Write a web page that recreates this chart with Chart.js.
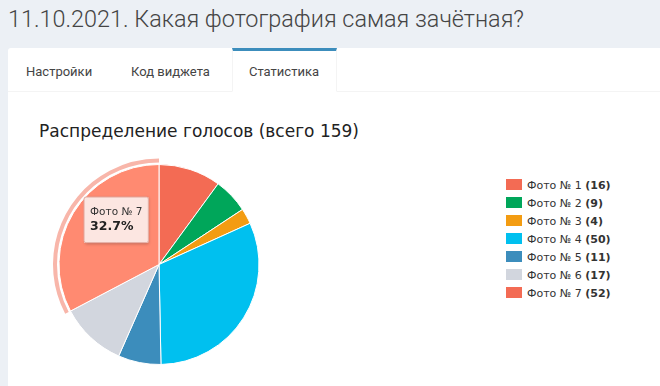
<!DOCTYPE html>
<html>
<head>
<meta charset="utf-8">
<script src="https://cdn.jsdelivr.net/npm/chart.js@4/dist/chart.umd.min.js"></script>
<style>
  body { margin: 0; width: 660px; height: 386px; background: #ecf0f5; overflow: hidden; position: relative; font-family: Roboto, sans-serif; }
  #head { position: absolute; left: 8px; top: 4px; font-size: 23.4px; font-weight: 300; color: #444; line-height: 30px; white-space: nowrap; }
  #card { position: absolute; left: 8px; top: 48px; right: 0; bottom: 0; background: #fff; border-radius: 3px 0 0 0; }
  #tabs { position: absolute; left: 0; right: 0; top: 0; height: 43px; border-bottom: 1px solid #f4f4f4; }
  .tab { position: absolute; top: 0; height: 43px; line-height: 47px; font-size: 13px; color: #444; white-space: nowrap; }
  .tab.active { box-sizing: border-box; height: 44px; border: 1px solid #f4f4f4; border-top: 3px solid #3c8dbc; border-bottom: 1px solid #fff; background: #fff; line-height: 41px; padding-left: 16px; width: 105px; }
  #ctitle { position: absolute; left: 39px; top: 121px; font-family: "DejaVu Sans", sans-serif; font-size: 17px; line-height: 20px; color: #222; white-space: nowrap; }
  #box { position: absolute; left: 8px; top: 100px; width: 330px; height: 286px; }
  #legend { position: absolute; left: 506px; top: 179px; font-family: "DejaVu Sans", sans-serif; font-size: 11px; color: #333; }
  .row { position: relative; height: 18px; }
  .sw { position: absolute; left: 0; top: 0; width: 16px; height: 11px; }
  .txt { position: absolute; left: 21px; top: 0; line-height: 13px; white-space: nowrap; }
</style>
</head>
<body>
<div id="head">11.10.2021. Какая фотография самая зачётная?</div>
<div id="card">
  <div id="tabs">
    <div class="tab" style="left:18px">Настройки</div>
    <div class="tab" style="left:123px">Код виджета</div>
    <div class="tab active" style="left:224px">Статистика</div>
  </div>
</div>
<div id="ctitle"></div>
<div id="box"><canvas id="pie"></canvas></div>
<div id="legend"></div>
<script>
var chartTitle = "Распределение голосов (всего 159)";
var labels = ["Фото № 1", "Фото № 2", "Фото № 3", "Фото № 4", "Фото № 5", "Фото № 6", "Фото № 7"];
var votes = [16, 9, 4, 50, 11, 17, 52];
var colors = ["#f36b54", "#00a65a", "#f39c12", "#00c0ef", "#3c8dbc", "#d2d6de", "#f36b54"];
var hoverColors = ["#ff8a71", "#33c07f", "#f7b24a", "#40d0f3", "#6aa8cc", "#dfe2e8", "#ff8a71"];
var activeIndex = 6;

var total = votes.reduce(function(a, b){ return a + b; }, 0);

document.getElementById("ctitle").textContent = chartTitle;

// legend with bold counts
var legend = document.getElementById("legend");
labels.forEach(function(l, i){
  var row = document.createElement("div");
  row.className = "row";
  row.innerHTML = '<span class="sw" style="background:' + colors[i] + '"></span>' +
    '<span class="txt">' + l + ' <b>(' + votes[i] + ')</b></span>';
  legend.appendChild(row);
});

// light ring around the hovered slice + tooltip shadow
var hoverRing = {
  id: "hoverRing",
  afterDatasetsDraw: function(chart){
    var ctx = chart.ctx;
    chart.getActiveElements().forEach(function(a){
      var p = a.element.getProps(["x", "y", "startAngle", "endAngle", "outerRadius"], true);
      ctx.save();
      ctx.beginPath();
      ctx.arc(p.x, p.y, p.outerRadius + 6, p.startAngle, p.endAngle);
      ctx.arc(p.x, p.y, p.outerRadius + 2, p.endAngle, p.startAngle, true);
      ctx.closePath();
      ctx.fillStyle = "#f8b6aa";
      ctx.fill();
      ctx.restore();
    });
  },
  beforeTooltipDraw: function(chart, args){
    var t = args.tooltip;
    if (!t.opacity) return;
    var ctx = chart.ctx;
    ctx.save();
    ctx.shadowColor = "rgba(0,0,0,0.25)";
    ctx.shadowBlur = 3;
    ctx.shadowOffsetX = 1;
    ctx.shadowOffsetY = 1;
    ctx.fillStyle = "#fce6e1";
    ctx.fillRect(t.x, t.y, t.width, t.height);
    ctx.restore();
  }
};

var chart = new Chart(document.getElementById("pie"), {
  type: "pie",
  data: {
    labels: labels,
    datasets: [{
      data: votes,
      backgroundColor: colors,
      hoverBackgroundColor: hoverColors,
      borderColor: "#fff",
      hoverBorderColor: "#fff",
      borderWidth: 1,
      hoverBorderWidth: 1,
      hoverOffset: 0
    }]
  },
  options: {
    responsive: true,
    maintainAspectRatio: false,
    animation: false,
    events: [],
    layout: { padding: { left: 31, right: 59, top: 64, bottom: 21 } },
    plugins: {
      legend: { display: false },
      title: { display: false },
      tooltip: {
        backgroundColor: "#fce6e1",
        borderColor: "#e3aca2",
        borderWidth: 1,
        cornerRadius: 2,
        caretSize: 0,
        caretPadding: -4,
        yAlign: "bottom",
        xAlign: "center",
        displayColors: false,
        padding: { top: 9, bottom: 8, left: 6, right: 6 },
        titleColor: "#333",
        titleFont: { family: "DejaVu Sans", size: 10.5, weight: "normal" },
        titleMarginBottom: 1,
        bodyColor: "#222",
        bodyFont: { family: "DejaVu Sans", size: 12.5, weight: "bold" },
        callbacks: {
          title: function(items){ return items[0].label; },
          label: function(item){ return (item.parsed / total * 100).toFixed(1) + "%"; }
        }
      }
    }
  },
  plugins: [hoverRing]
});

var act = [{ datasetIndex: 0, index: activeIndex }];
chart.setActiveElements(act);
chart.tooltip.setActiveElements(act, { x: 0, y: 0 });
chart.update();
</script>
</body>
</html>
